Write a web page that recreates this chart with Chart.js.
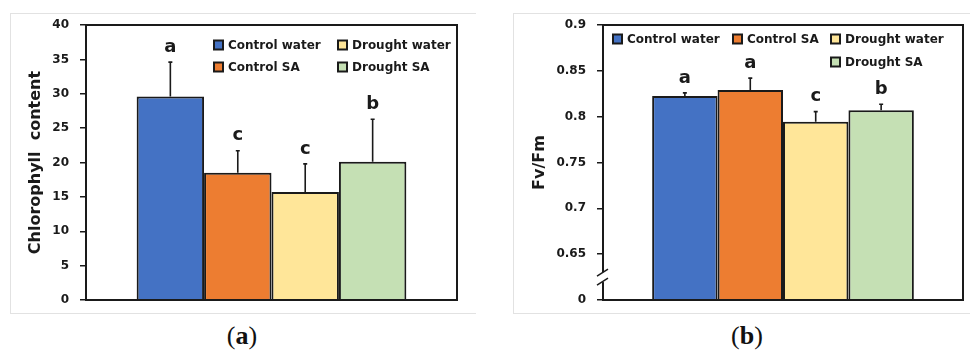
<!DOCTYPE html>
<html>
<head>
<meta charset="utf-8">
<script src="https://cdn.jsdelivr.net/npm/chart.js@4"></script>
<style>
  body { margin: 0; width: 970px; height: 358px; background: #fff; position: relative; overflow: hidden; }
  .frame { position: absolute; top: 13px; height: 299px; border: 1px solid #e2e2e2; }
  .box { position: absolute; top: 14px; height: 298px; }
  .cap { position: absolute; top: 321px; width: 80px; text-align: center; font-family: "Liberation Serif", serif; font-size: 26px; color: #111; }
  .cap b { font-weight: bold; }
</style>
</head>
<body>
<div class="frame" style="left:10px; width:465px; border-right:none;"></div>
<div class="frame" style="left:513px; width:470px; border-right:none;"></div>
<div class="box" style="left:11px; width:465px;"><canvas id="chartA"></canvas></div>
<div class="box" style="left:514px; width:454px;"><canvas id="chartB"></canvas></div>
<div class="cap" style="left:202px;">(<b>a</b>)</div>
<div class="cap" style="left:707px;">(<b>b</b>)</div>
<script>
////////////////////////////// DATA //////////////////////////////
const groups = ["Control water", "Control SA", "Drought water", "Drought SA"];
const barColors = ["#4472C4", "#ED7D31", "#FFE699", "#C5E0B4"];

// chart (a) chlorophyll
const chlValues = [29.6, 18.5, 15.7, 20.1];
const chlErrors = [5.0, 3.2, 4.1, 6.2];
const chlLetters = ["a", "c", "c", "b"];

// chart (b) Fv/Fm  (axis is broken: bottom tick stands for 0)
const fvValues = [0.8225, 0.829, 0.7945, 0.807];
const fvErrors = [0.0035, 0.013, 0.011, 0.0065];
const fvLetters = ["a", "a", "c", "b"];
const fvTickLabels = ["0", "0.65", "0.7", "0.75", "0.8", "0.85", "0.9"];

const FONT = "'DejaVu Sans', Verdana, sans-serif";
const INK = "#1a1a1a";

////////////////////////////// PLUGIN //////////////////////////////
// frame box, error bars, letters, custom legend, axis break
const extras = {
  id: "extras",
  afterDatasetsDraw(chart, args, opts) {
    const ctx = chart.ctx;
    const yS = chart.scales.y;
    const ca = chart.chartArea;
    ctx.save();
    // error bars + letters
    chart.data.datasets.forEach((ds, i) => {
      const bar = chart.getDatasetMeta(i).data[0];
      const top = yS.getPixelForValue(ds.data[0] + opts.errors[i]);
      ctx.strokeStyle = INK;
      ctx.lineWidth = 1.6;
      ctx.beginPath();
      ctx.moveTo(bar.x, bar.y);
      ctx.lineTo(bar.x, top);
      ctx.moveTo(bar.x - 2, top);
      ctx.lineTo(bar.x + 2, top);
      ctx.stroke();
      ctx.fillStyle = INK;
      ctx.font = "bold 18px " + FONT;
      ctx.textAlign = "center";
      ctx.textBaseline = "middle";
      ctx.fillText(opts.letters[i], bar.x, top - 15);
    });
    // plot frame
    ctx.strokeStyle = INK;
    ctx.lineWidth = 2;
    ctx.strokeRect(ca.left, ca.top, ca.right - ca.left, ca.bottom - ca.top);
    // legend
    ctx.font = "bold 12px " + FONT;
    ctx.textAlign = "left";
    ctx.textBaseline = "middle";
    opts.legendPos.forEach((p, i) => {
      ctx.fillStyle = INK;
      ctx.fillRect(p[0], p[1] - 5.5, 11, 11);
      ctx.fillStyle = barColors[i];
      ctx.fillRect(p[0] + 2, p[1] - 3.5, 7, 7);
      ctx.fillStyle = INK;
      ctx.fillText(groups[i], p[0] + 15, p[1] + 0.5);
    });
    // axis break
    if (opts.axisBreak) {
      const x = ca.left;
      const c = (yS.getPixelForValue(0.6) + yS.getPixelForValue(0.65)) / 2;
      ctx.fillStyle = "#fff";
      ctx.fillRect(x - 3, c - 5, 6, 10);
      ctx.strokeStyle = INK;
      ctx.lineWidth = 1.5;
      ctx.beginPath();
      ctx.moveTo(x - 6, c - 1);
      ctx.lineTo(x + 5, c - 8);
      ctx.moveTo(x - 6, c + 8);
      ctx.lineTo(x + 5, c + 1);
      ctx.stroke();
    }
    ctx.restore();
  }
};

////////////////////////////// BUILD //////////////////////////////
function makeChart(id, values, yOpts, padRight, yWidth, plugOpts) {
  return new Chart(document.getElementById(id), {
    type: "bar",
    data: {
      labels: [""],
      datasets: groups.map((g, i) => ({
        label: g,
        data: [values[i]],
        backgroundColor: barColors[i],
        borderColor: INK,
        borderWidth: 2,
        borderSkipped: "bottom",
        barPercentage: 1,
        categoryPercentage: 0.727,
      })),
    },
    options: {
      responsive: true,
      maintainAspectRatio: false,
      animation: false,
      layout: { padding: { top: 11, right: padRight, bottom: 12, left: 0 } },
      plugins: { legend: { display: false }, tooltip: { enabled: false }, extras: plugOpts },
      scales: {
        x: { display: false },
        y: Object.assign({
          grid: { drawOnChartArea: false, drawTicks: true, tickLength: 6, color: INK, lineWidth: 1.5 },
          border: { display: true, color: INK, width: 2 },
          afterFit: (s) => { s.width = yWidth; s.paddingTop = 0; s.paddingBottom = 0; },
        }, yOpts),
      },
    },
    plugins: [extras],
  });
}

makeChart("chartA", chlValues, {
  min: 0, max: 40,
  ticks: { stepSize: 5, color: INK, font: { family: FONT, size: 12, weight: "bold" }, padding: 11 },
  title: { display: true, text: "Chlorophyll  content", color: INK, font: { family: FONT, size: 16, weight: "bold" }, padding: { top: 15, bottom: 0 } },
}, 19, 75, {
  errors: chlErrors, letters: chlLetters,
  legendPos: [[202, 31], [202, 53], [326, 31], [326, 53]],
});

makeChart("chartB", fvValues, {
  min: 0.6, max: 0.9,
  ticks: { stepSize: 0.05, color: INK, font: { family: FONT, size: 12, weight: "bold" }, padding: 11,
    callback: (v, i) => fvTickLabels[i] },
  title: { display: true, text: "Fv/Fm", color: INK, font: { family: FONT, size: 16, weight: "bold" }, padding: { top: 16, bottom: 0 } },
}, 5, 89, {
  errors: fvErrors, letters: fvLetters, axisBreak: true,
  legendPos: [[98, 25], [218, 25], [316, 25], [316, 48]],
});
</script>
</body>
</html>
